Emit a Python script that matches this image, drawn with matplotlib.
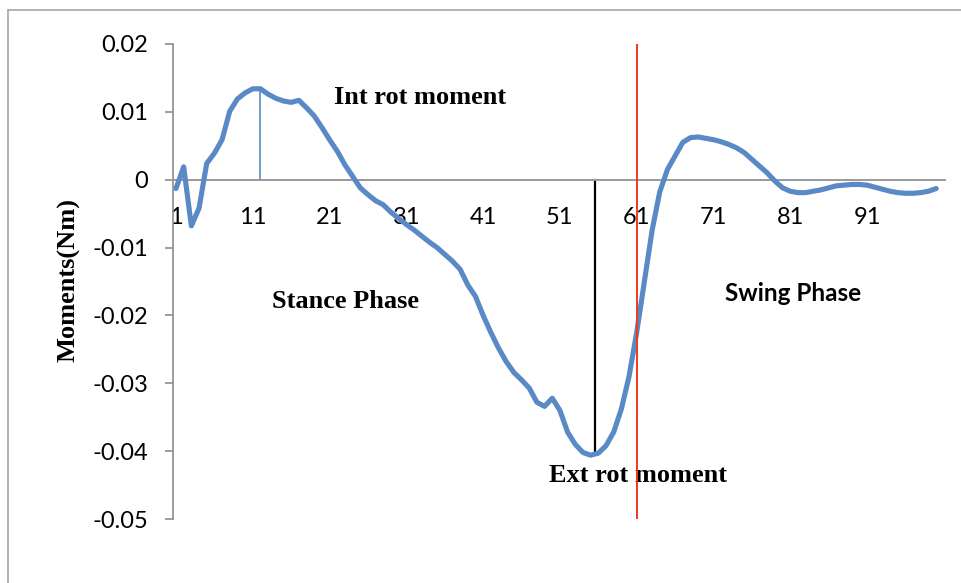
import numpy as np
import matplotlib.pyplot as plt
from matplotlib.lines import Line2D

# gait cycle (%) 1..100 and rotation moment (Nm)
cycle = list(range(1, 101))
moment = [
    -0.0013, 0.0019, -0.0068, -0.0042, 0.0024, 0.0039, 0.0059, 0.0101, 0.0119, 0.0128,
    0.0134, 0.0134, 0.0126, 0.0120, 0.0116, 0.0114, 0.0117, 0.0106, 0.0094, 0.0077,
    0.0059, 0.0042, 0.0022, 0.0005, -0.0012, -0.0022, -0.0031, -0.0037, -0.0048, -0.0057,
    -0.0066, -0.0074, -0.0083, -0.0092, -0.0100, -0.0110, -0.0120, -0.0132, -0.0155, -0.0172,
    -0.0200, -0.0225, -0.0248, -0.0268, -0.0284, -0.0295, -0.0307, -0.0328, -0.0334, -0.0322,
    -0.0340, -0.0372, -0.0390, -0.0402, -0.0406, -0.0403, -0.0392, -0.0372, -0.0338, -0.0290,
    -0.0225, -0.0150, -0.0075, -0.0018, 0.0015, 0.0035, 0.0055, 0.0062, 0.0063, 0.0061,
    0.0059, 0.0056, 0.0052, 0.0047, 0.0040, 0.0030, 0.0020, 0.0010, -0.0002, -0.0012,
    -0.0017, -0.0019, -0.0019, -0.0017, -0.0015, -0.0012, -0.0009, -0.0008, -0.0007, -0.0007,
    -0.0008, -0.0011, -0.0014, -0.0017, -0.0019, -0.0020, -0.0020, -0.0019, -0.0017, -0.0013,
]
y_ticks = [0.02, 0.01, 0, -0.01, -0.02, -0.03, -0.04, -0.05]
y_tick_labels = ['0.02', '0.01', '0', '-0.01', '-0.02', '-0.03', '-0.04', '-0.05']
x_ticks = [1, 11, 21, 31, 41, 51, 61, 71, 81, 91]

int_peak_x, int_peak_y = 12, 0.0134
ext_peak_x, ext_peak_y = 55.6, -0.0400
toe_off_x = 61

fig = plt.figure(figsize=(9.62, 5.83), dpi=100)
ax = fig.add_axes([173/962, 1 - 519/583, (945 - 173)/962, (519 - 44)/583])

ax.plot(cycle, moment, color='#5a8ac6', lw=3.7, solid_joinstyle='round', solid_capstyle='round', zorder=3)
ax.plot([int_peak_x, int_peak_x], [0, int_peak_y], color='#5a8ac6', lw=1.2, zorder=2)
ax.plot([ext_peak_x, ext_peak_x], [0, ext_peak_y], color='black', lw=1.6, zorder=2)
ax.plot([toe_off_x, toe_off_x], [0.02, -0.05], color='#ee3a1e', lw=1.4, zorder=4)

ax.set_xlim(0.61, 101.15)
ax.set_ylim(-0.05, 0.02)
ax.set_yticks(y_ticks)
ax.set_yticklabels(y_tick_labels)
ax.set_xticks(x_ticks)

for s in ['top', 'right']:
    ax.spines[s].set_visible(False)
ax.spines['left'].set_color('#8c8c8c')
ax.spines['left'].set_linewidth(1.2)
ax.spines['bottom'].set_position(('data', 0))
ax.spines['bottom'].set_color('#9a9a9a')
ax.spines['bottom'].set_linewidth(1.4)

ax.tick_params(axis='y', direction='out', length=6, width=1.2, color='#8c8c8c',
               pad=12, labelsize=17, labelfontfamily='Lato')
ax.tick_params(axis='x', length=0, pad=19.5, labelsize=17, labelfontfamily='Lato')

ax.set_ylabel('Moments(Nm)', family='Liberation Serif', fontweight='bold', fontsize=19)
ax.yaxis.set_label_coords(-93/772, 0.503)

ax.text(32.8, 0.0121, 'Int rot moment', family='Liberation Serif', fontweight='bold',
        fontsize=19, ha='center', va='center')
ax.text(23.1, -0.0180, 'Stance Phase', family='Liberation Serif', fontweight='bold',
        fontsize=19, ha='center', va='center')
ax.text(61.2, -0.0436, 'Ext rot moment', family='Liberation Serif', fontweight='bold',
        fontsize=19, ha='center', va='center')
ax.text(81.4, -0.0168, 'Swing Phase', family='Lato', fontweight='bold',
        fontsize=17.5, ha='center', va='center')

# outer chart frame
fig.add_artist(Line2D([8/962, 8/962], [0, 1 - 10/583], color='#a6a6a6', lw=1.2))
fig.add_artist(Line2D([8/962, 1], [1 - 10/583, 1 - 10/583], color='#a6a6a6', lw=1.2))

fig.savefig('out.png', dpi=100)
